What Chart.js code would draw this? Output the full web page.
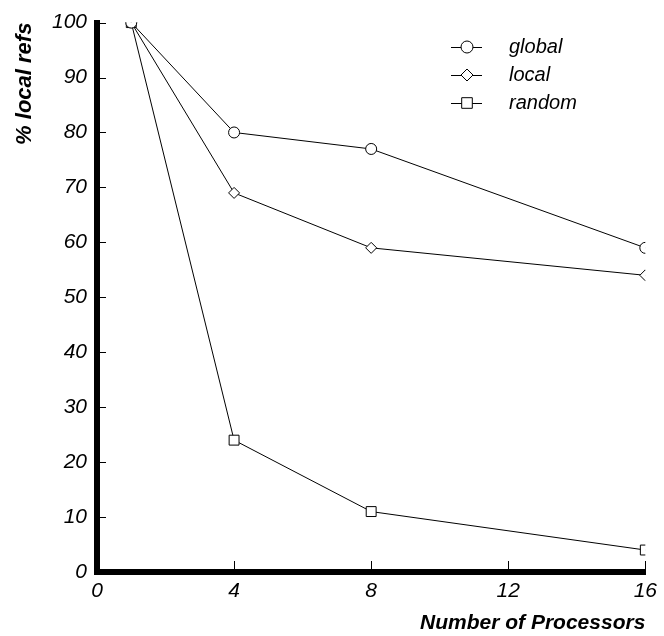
<!DOCTYPE html>
<html>
<head>
<meta charset="utf-8">
<script src="https://cdn.jsdelivr.net/npm/chart.js@4.4.0/dist/chart.umd.min.js"></script>
<style>
  html, body { margin: 0; padding: 0; background: #fff; }
  #wrap { width: 664px; height: 636px; }
</style>
</head>
<body>
<div id="wrap"><canvas id="chart"></canvas></div>
<script>
// values
const processors = [1, 4, 8, 16];
const globalRefs = [100, 80, 77, 59];
const localRefs = [100, 69, 59, 54];
const randomRefs = [100, 24, 11, 4];
const seriesNames = ["global", "local", "random"];
const xTicks = [0, 4, 8, 12, 16];

const FONT = "'Liberation Sans', Arial, sans-serif";

function toPoints(ys) {
    return processors.map((x, i) => ({ x: x, y: ys[i] }));
}

// small inward ticks on both axes
const innerTicks = {
    id: "innerTicks",
    afterDraw(chart) {
        const ctx = chart.ctx;
        const xs = chart.scales.x;
        const ys = chart.scales.y;
        ctx.save();
        ctx.strokeStyle = "#000";
        ctx.lineWidth = 1;
        ctx.beginPath();
        ys.ticks.forEach((t) => {
            const py = Math.round(ys.getPixelForValue(t.value)) + 0.5;
            ctx.moveTo(ys.right + 3, py);
            ctx.lineTo(ys.right + 9, py);
        });
        xs.ticks.forEach((t) => {
            if (t.value === 0) return;
            const px = Math.round(xs.getPixelForValue(t.value)) + 0.5;
            ctx.moveTo(px, xs.top - 3);
            ctx.lineTo(px, xs.top - 11);
        });
        ctx.stroke();
        ctx.restore();
    },
};

// legend drawn as line + marker + label
function drawMarker(ctx, style, x, y, r) {
    ctx.beginPath();
    if (style === "circle") {
        ctx.arc(x, y, r, 0, Math.PI * 2);
    } else if (style === "rectRot") {
        ctx.moveTo(x, y - r);
        ctx.lineTo(x + r, y);
        ctx.lineTo(x, y + r);
        ctx.lineTo(x - r, y);
        ctx.closePath();
    } else {
        const s = r * Math.SQRT1_2;
        ctx.rect(x - s, y - s, 2 * s, 2 * s);
    }
    ctx.fill();
    ctx.stroke();
}

const lineLegend = {
    id: "lineLegend",
    afterDraw(chart) {
        const ctx = chart.ctx;
        ctx.save();
        ctx.font = "italic 20px " + FONT;
        ctx.textBaseline = "middle";
        chart.data.datasets.forEach((ds, i) => {
            const y = 47 + i * 28;
            ctx.strokeStyle = ds.borderColor;
            ctx.lineWidth = 1;
            ctx.beginPath();
            ctx.moveTo(451, y + 0.5);
            ctx.lineTo(482, y + 0.5);
            ctx.stroke();
            ctx.fillStyle = "#fff";
            drawMarker(ctx, ds.pointStyle, 467, y, ds.pointRadius + 0.5);
            ctx.fillStyle = "#000";
            ctx.fillText(ds.label, 509, y);
        });
        ctx.restore();
    },
};

const markers = ["circle", "rectRot", "rect"];
const radii = [5.5, 5.5, 7];

new Chart(document.getElementById("chart"), {
    type: "line",
    data: {
        datasets: [globalRefs, localRefs, randomRefs].map((ys, i) => ({
            label: seriesNames[i],
            data: toPoints(ys),
            borderColor: "#000",
            borderWidth: 1,
            pointStyle: markers[i],
            pointRadius: radii[i],
            pointBackgroundColor: "#fff",
            pointBorderColor: "#000",
            pointBorderWidth: 1,
            tension: 0,
            clip: 0,
        })),
    },
    options: {
        responsive: true,
        maintainAspectRatio: false,
        animation: false,
        events: [],
        layout: { padding: { top: 19, right: 18, left: 0, bottom: 0 } },
        plugins: {
            legend: { display: false },
            tooltip: { enabled: false },
        },
        scales: {
            x: {
                type: "linear",
                min: 0,
                max: 16,
                afterBuildTicks: (scale) => {
                    scale.ticks = xTicks.map((v) => ({ value: v }));
                },
                afterFit: (scale) => { scale.height = 64; },
                grid: { drawOnChartArea: false, drawTicks: false },
                border: { color: "#000", width: 6 },
                ticks: {
                    color: "#000",
                    padding: 7,
                    font: { family: FONT, size: 21, style: "italic" },
                },
                title: {
                    display: true,
                    text: "Number of Processors",
                    align: "end",
                    color: "#000",
                    padding: { top: 0, bottom: 0 },
                    font: { family: FONT, size: 21, style: "italic", weight: "bold" },
                },
            },
            y: {
                min: 0,
                max: 100,
                afterFit: (scale) => { scale.width = 97; },
                grid: { drawOnChartArea: false, drawTicks: false },
                border: { color: "#000", width: 6 },
                ticks: {
                    stepSize: 10,
                    color: "#000",
                    padding: 10,
                    font: { family: FONT, size: 21, style: "italic" },
                },
                title: {
                    display: true,
                    text: "% local refs",
                    align: "end",
                    color: "#000",
                    padding: { top: 12, bottom: 0 },
                    font: { family: FONT, size: 22, style: "italic", weight: "bold" },
                },
            },
        },
    },
    plugins: [innerTicks, lineLegend],
});
</script>
</body>
</html>
